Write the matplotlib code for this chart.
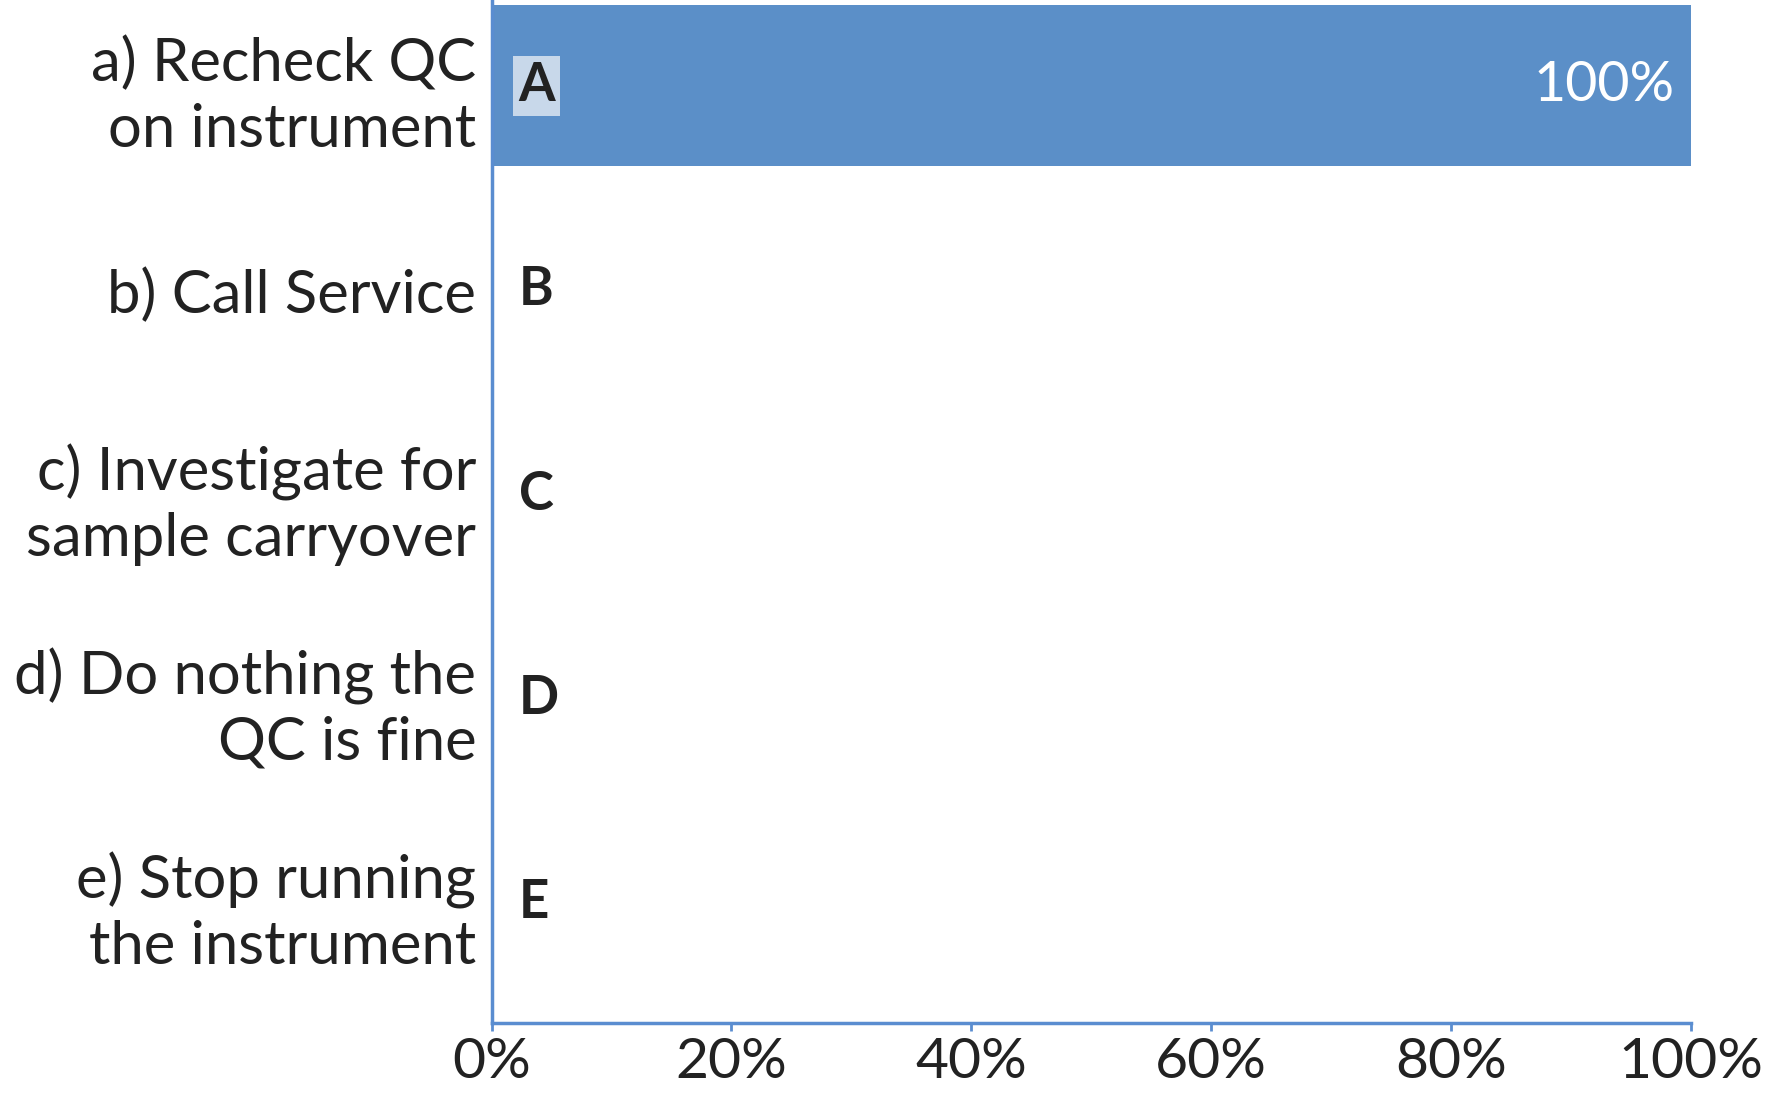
import matplotlib.pyplot as plt
import numpy as np

# poll answers
categories = ["a) Recheck QC\non instrument", "b) Call Service",
              "c) Investigate for\nsample carryover", "d) Do nothing the\nQC is fine",
              "e) Stop running\nthe instrument"]
letters = ["A", "B", "C", "D", "E"]
values = [100, 0, 0, 0, 0]
ticks = [0, 20, 40, 60, 80, 100]

bar_color = "#5b8fc8"
axis_color = "#5a8dd0"
text_color = "#222222"

plt.rcParams['font.family'] = ['Lato', 'DejaVu Sans']

fig = plt.figure(figsize=(17.81, 10.94), dpi=100)
ax = fig.add_axes([0.276, 0.065, 0.6735, 0.935])

y = np.arange(len(categories))
ax.barh(y, values, height=0.79, color=bar_color)

for i, (v, letter) in enumerate(zip(values, letters)):
    box = None
    if v > 0:
        box = dict(boxstyle='square,pad=0.1', facecolor='#c8d8ea', edgecolor='none')
        ax.annotate(f"{v}%", xy=(v, i), xytext=(-16, 0), textcoords='offset pixels',
                    color='white', fontsize=40, ha='right', va='center')
    ax.annotate(letter, xy=(0, i), xytext=(27, 0), textcoords='offset pixels',
                fontsize=38, fontweight='bold', color=text_color,
                ha='left', va='center', bbox=box)

ax.set_xlim(0, 100)
ax.set_ylim(4.59, -0.42)
ax.set_yticks(y)
ax.set_yticklabels(categories, fontsize=43, color=text_color, linespacing=1.25)
ax.set_xticks(ticks)
ax.set_xticklabels([f"{t}%" for t in ticks], fontsize=41, color=text_color)

ax.tick_params(axis='y', length=0, pad=11)
ax.tick_params(axis='x', length=6, width=2, color=axis_color, pad=4)
for s in ['top', 'right']:
    ax.spines[s].set_visible(False)
for s in ['left', 'bottom']:
    ax.spines[s].set_color(axis_color)
    ax.spines[s].set_linewidth(2.5)

fig.savefig("out.png", dpi=100)
